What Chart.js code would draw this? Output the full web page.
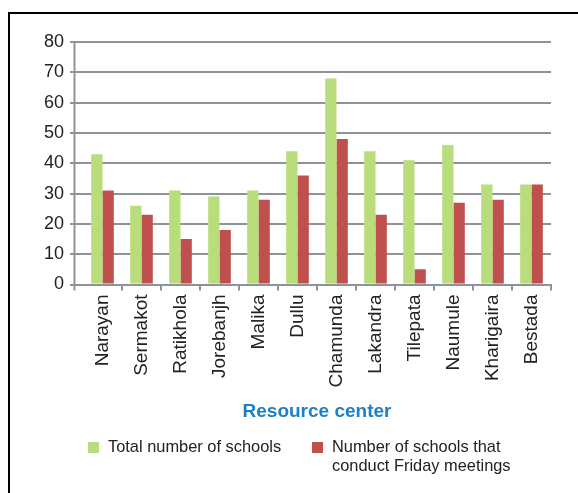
<!DOCTYPE html>
<html>
<head>
<meta charset="utf-8">
<script src="https://cdn.jsdelivr.net/npm/chart.js@4/dist/chart.umd.min.js"></script>
<style>
  body { margin: 0; background: #fff; }
  #wrap { position: relative; width: 578px; height: 493px; overflow: hidden; font-family: 'Liberation Sans', Arial, sans-serif; }
  #frame { position: absolute; left: 8px; top: 12px; width: 640px; height: 600px; border-top: 2px solid #000; border-left: 2px solid #000; }
  #myChart { position: absolute; left: 0; top: 0; }
  .box { position: absolute; width: 11px; height: 11px; }
  .txt { position: absolute; font-size: 16.4px; line-height: 19px; color: #222; white-space: nowrap; }
</style>
</head>
<body>
<div id="wrap">
  <div id="frame"></div>
  <canvas id="myChart" width="578" height="493"></canvas>
  <div id="legend"></div>
</div>
<script>
const centers = ['Narayan', 'Sermakot', 'Ratikhola', 'Jorebanjh', 'Malika', 'Dullu', 'Chamunda', 'Lakandra', 'Tilepata', 'Naumule', 'Kharigaira', 'Bestada']
const totalSchools = [43, 26, 31, 29, 31, 44, 68, 44, 41, 46, 33, 33]
const fridaySchools = [31, 23, 15, 18, 28, 36, 48, 23, 5, 27, 28, 33]
const legendTotal = 'Total number of schools'
const legendFriday = ['Number of schools that', 'conduct Friday meetings']
const xTitle = 'Resource center'

const green = '#b9dd7a'
const red = '#c0504d'
const gridGrey = '#8c939b'
const fontFamily = "'Liberation Sans', Arial, sans-serif"

// legend (html, two-line label like the original)
function buildLegend() {
  const items = [
    { color: green, lines: [legendTotal], boxX: 88, textX: 108 },
    { color: red, lines: legendFriday, boxX: 312, textX: 332 }
  ]
  const el = document.getElementById('legend')
  items.forEach((it) => {
    const box = document.createElement('div')
    box.className = 'box'
    box.style.left = it.boxX + 'px'
    box.style.top = '442px'
    box.style.background = it.color
    el.appendChild(box)
    const txt = document.createElement('div')
    txt.className = 'txt'
    txt.style.left = it.textX + 'px'
    txt.style.top = '437px'
    txt.innerHTML = it.lines.join('<br>')
    el.appendChild(txt)
  })
}
buildLegend()

// the value axis line sits a little left of the first category
const axisLine = {
  id: 'axisLine',
  afterDraw(chart) {
    const { ctx, chartArea } = chart
    const x = chartArea.left - 8.5
    ctx.save()
    ctx.strokeStyle = gridGrey
    ctx.lineWidth = 2
    ctx.beginPath()
    ctx.moveTo(x, chartArea.top)
    ctx.lineTo(x, chartArea.bottom + 6)
    ctx.stroke()
    ctx.restore()
  }
}

let data = {
  labels: centers,
  datasets: [{
    label: legendTotal,
    data: totalSchools,
    backgroundColor: green,
    categoryPercentage: 0.58,
    barPercentage: 1
  }, {
    label: legendFriday.join(' '),
    data: fridaySchools,
    backgroundColor: red,
    categoryPercentage: 0.58,
    barPercentage: 1
  }]
}

let config = {
  type: 'bar',
  data: data,
  plugins: [axisLine],
  options: {
    responsive: false,
    animation: false,
    layout: {
      padding: { left: 20, right: 27, top: 42, bottom: 70 }
    },
    plugins: {
      tooltip: { enabled: false },
      legend: { display: false }
    },
    scales: {
      y: {
        min: 0,
        max: 80,
        ticks: {
          stepSize: 10,
          autoSkip: false,
          color: '#222',
          padding: 6,
          font: { family: fontFamily, size: 18 }
        },
        grid: {
          color: gridGrey,
          lineWidth: 2,
          tickLength: 13
        },
        border: { display: false },
        afterFit: (scale) => { scale.width = 63 }
      },
      x: {
        ticks: {
          minRotation: 90,
          maxRotation: 90,
          autoSkip: false,
          color: '#222',
          padding: 4,
          font: { family: fontFamily, size: 19 }
        },
        grid: {
          drawOnChartArea: false,
          color: (c) => c.index === 0 ? 'rgba(0,0,0,0)' : gridGrey,
          lineWidth: 2,
          tickLength: 6
        },
        border: { color: gridGrey, width: 2 },
        title: {
          display: true,
          text: xTitle,
          color: '#1b80c8',
          padding: { top: 4, bottom: 0 },
          font: { family: fontFamily, size: 19, weight: 'bold' }
        },
        afterFit: (scale) => { scale.height = 138.5 }
      }
    }
  }
}

const myChart = new Chart(
  document.getElementById('myChart'),
  config
)
</script>
</body>
</html>
